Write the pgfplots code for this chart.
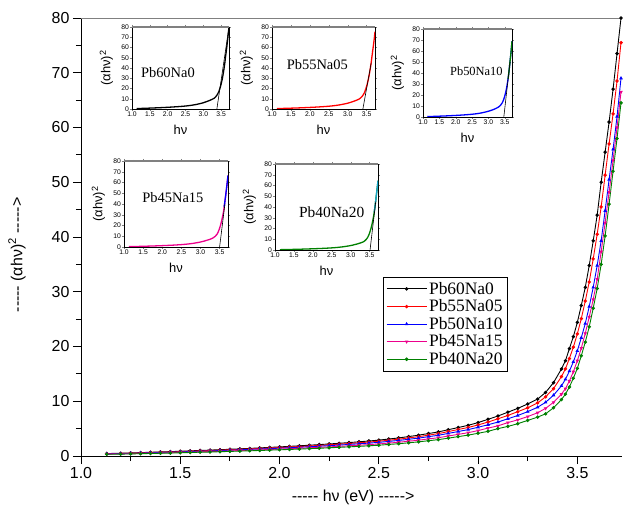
\documentclass[border=0pt]{standalone}
\usepackage{pgfplots}
\pgfplotsset{compat=1.18}
\usepackage{pgfplotstable}
\usepackage{fontspec}
\setmainfont{Liberation Serif}
\setsansfont{Liberation Sans}
\definecolor{dgreen}{RGB}{0,128,0}
\definecolor{topgray}{RGB}{128,128,128}

\pgfplotstableread{
x    b     r     bl    m     g
1.13 0.45  0.42  0.39  0.34  0.31
1.20 0.50  0.47  0.43  0.38  0.34
1.25 0.56  0.52  0.48  0.43  0.38
1.30 0.62  0.58  0.53  0.47  0.42
1.35 0.68  0.63  0.58  0.52  0.46
1.40 0.74  0.69  0.64  0.56  0.50
1.45 0.80  0.74  0.69  0.61  0.54
1.50 0.87  0.81  0.75  0.66  0.59
1.55 0.94  0.87  0.81  0.71  0.64
1.60 1.01  0.94  0.87  0.77  0.69
1.65 1.08  1.00  0.93  0.82  0.73
1.70 1.15  1.07  0.99  0.87  0.78
1.75 1.23  1.14  1.06  0.93  0.84
1.80 1.31  1.22  1.13  1.00  0.89
1.85 1.39  1.29  1.20  1.06  0.95
1.90 1.48  1.38  1.27  1.12  1.01
1.95 1.57  1.46  1.35  1.19  1.07
2.00 1.66  1.54  1.43  1.26  1.13
2.05 1.76  1.64  1.51  1.34  1.20
2.10 1.86  1.73  1.60  1.41  1.26
2.15 1.97  1.83  1.69  1.50  1.34
2.20 2.08  1.93  1.79  1.58  1.41
2.25 2.20  2.05  1.89  1.67  1.50
2.30 2.32  2.16  2.00  1.76  1.58
2.35 2.45  2.28  2.11  1.86  1.67
2.40 2.59  2.41  2.23  1.97  1.76
2.45 2.74  2.55  2.36  2.08  1.86
2.50 2.90  2.70  2.49  2.20  1.97
2.55 3.10  2.88  2.67  2.36  2.11
2.60 3.30  3.07  2.84  2.51  2.24
2.65 3.55  3.30  3.05  2.70  2.41
2.70 3.80  3.53  3.27  2.89  2.58
2.75 4.10  3.81  3.53  3.12  2.79
2.80 4.40  4.09  3.78  3.34  2.99
2.85 4.80  4.46  4.13  3.65  3.26
2.90 5.20  4.84  4.47  3.95  3.54
2.95 5.60  5.21  4.82  4.26  3.81
3.00 6.10  5.67  5.25  4.64  4.15
3.05 6.7   6.2   5.7   5.1   4.5
3.10 7.3   6.8   6.2   5.5   5.0
3.15 8.0   7.4   6.8   6.1   5.4
3.20 8.7   8.1   7.4   6.6   5.9
3.25 9.5   8.8   8.1   7.2   6.5
3.30 10.4  9.7   8.9   7.9   7.1
3.34 11.6  10.8  9.8   8.7   7.7
3.38 13.4  12.3  11.1  9.8   8.8
3.42 15.9  14.5  12.8  11.3  10.3
3.44 17.4  15.9  14.0  12.3  11.3
3.46 19.6  17.8  15.5  13.7  12.6
3.48 21.8  19.9  17.2  15.4  14.2
3.50 24.4  22.3  19.2  17.4  16.0
3.52 27.5  25.1  21.6  19.7  18.3
3.54 30.8  28.3  24.2  22.4  20.8
3.56 34.8  31.8  27.3  25.4  23.6
3.58 39.3  36.0  30.8  28.6  27.0
3.60 44.0  40.5  34.8  32.3  30.6
3.62 50.0  45.5  39.3  37.3  35.0
3.64 55.5  51.3  44.8  42.6  40.2
3.66 61.0  57.0  50.5  48.2  46.0
3.68 67.0  62.5  56.0  54.0  52.0
3.70 73.5  68.5  62.0  60.0  58.0
3.72 80.0  75.5  69.0  66.5  64.5
}\data

\pgfplotsset{
  inset/.style={
    scale only axis, anchor=south west,
    xmin=1, xmax=3.72, ymin=0, ymax=80,
    xtick={1,1.5,...,3.5}, ytick={0,10,...,80},
    minor x tick num=1,
    tick align=outside, major tick length=2bp, minor tick length=1.2bp,
    tick style={line width=0.4pt},
    /pgf/number format/assume math mode=true,
    ticklabel style={font=\sffamily\fontsize{6.8}{7}\selectfont, inner sep=0.8pt},
    xticklabel style={/pgf/number format/.cd,fixed,fixed zerofill,precision=1},
    xlabel={hν}, ylabel={(αhν)\textsuperscript{2}},
    label style={font=\sffamily\fontsize{13}{14}\selectfont},
    xlabel style={yshift=-4bp},
    ylabel style={yshift=4bp},
    axis line style={line width=0.6pt},
    every axis plot/.append style={no marks, line width=1.3pt},
  },
}
\tikzset{insettitle/.style={font=\rmfamily\fontsize{14.5}{16}\selectfont}}

\begin{document}
\begin{tikzpicture}
\begin{axis}[
  name=main,
  scale only axis, width=541bp, height=438bp,
  at={(0,0)}, anchor=south west,
  xmin=1.0, xmax=3.725, ymin=0, ymax=80,
  axis x line*=bottom, axis y line*=left,
  axis line style={line width=0.9pt},
  xtick={1,1.5,...,3.5}, ytick={0,10,...,80},
  minor x tick num=1, minor y tick num=1,
  tick align=outside, major tick length=8bp, minor tick length=5bp,
  tick style={line width=0.9pt, black},
  /pgf/number format/assume math mode=true,
  ticklabel style={font=\sffamily\fontsize{16}{18}\selectfont},
  xticklabel style={/pgf/number format/.cd,fixed,fixed zerofill,precision=1},
  xlabel={{-}{-}{-}{-}{-} hν (eV) {-}{-}{-}{-}{-}>},
  ylabel={{-}{-}{-}{-}{-} (αhν)\textsuperscript{2} {-}{-}{-}{-}{-}>},
  label style={font=\sffamily\fontsize{16}{18}\selectfont},
  xlabel style={at={(rel axis cs:0.503,0)}, anchor=center, yshift=-41bp},
  ylabel style={at={(rel axis cs:0,0.459)}, anchor=center, xshift=0bp, yshift=64bp},
  legend style={at={(0.558,0.409)}, anchor=north west, draw=black, line width=0.6pt,
    font=\rmfamily\fontsize{17.5}{19}\selectfont, row sep=0bp, inner sep=3bp},
  legend cell align=left,
  legend image code/.code={\draw[mark repeat=2,mark phase=2,#1] plot coordinates {(0bp,0bp) (20bp,0bp) (40bp,0bp)};},
  every axis plot/.append style={line width=0.9pt, mark size=1.25pt},
]
\addplot[black, mark=*] table[x=x,y=b] {\data};
\addplot[red, mark=*] table[x=x,y=r] {\data};
\addplot[blue, mark=triangle*] table[x=x,y=bl] {\data};
\addplot[magenta, mark=triangle*, mark options={rotate=180}] table[x=x,y=m] {\data};
\addplot[dgreen, mark=*] table[x=x,y=g] {\data};
\legend{Pb60Na0,Pb55Na05,Pb50Na10,Pb45Na15,Pb40Na20}
\draw[topgray, line width=1.4pt] (rel axis cs:0,1) -- (rel axis cs:1,1);
\end{axis}

% inset 1: Pb60Na0  box (132,27)-(229,109)
\begin{axis}[inset, at={(51bp,347bp)}, width=97bp, height=82bp]
\addplot[black] table[x=x,y=b] {\data};
\addplot[black, line width=0.6pt] coordinates {(3.38,0) (3.72,80)};
\node[insettitle] at (rel axis cs:0.37,0.45) {Pb60Na0};
\draw[topgray, line width=1.4pt] (rel axis cs:0,1) -- (rel axis cs:1,1);
\end{axis}

% inset 2: Pb55Na05 box (272,27)-(375,109)
\begin{axis}[inset, at={(191bp,347bp)}, width=103bp, height=82bp]
\addplot[red] table[x=x,y=r] {\data};
\addplot[black, line width=0.6pt] coordinates {(3.40,0) (3.62,45)};
\node[insettitle] at (rel axis cs:0.44,0.54) {Pb55Na05};
\draw[topgray, line width=1.4pt] (rel axis cs:0,1) -- (rel axis cs:1,1);
\end{axis}

% inset 3: Pb50Na10 box (423,29)-(512,117)
\begin{axis}[inset, at={(342bp,339bp)}, width=89bp, height=88bp]
\addplot[blue] table[x=x,y=bl] {\data};
\addplot[dgreen, restrict x to domain=3.6:3.8] table[x=x,y=bl] {\data};
\addplot[black, line width=0.6pt] coordinates {(3.47,0) (3.66,50)};
\node[insettitle, font=\rmfamily\fontsize{12.5}{14}\selectfont] at (rel axis cs:0.6,0.52) {Pb50Na10};
\draw[topgray, line width=1.4pt] (rel axis cs:0,1) -- (rel axis cs:1,1);
\end{axis}

% inset 4: Pb45Na15 box (124,161)-(228,247)
\begin{axis}[inset, at={(43bp,209bp)}, width=104bp, height=86bp]
\addplot[magenta] table[x=x,y=m] {\data};
\addplot[blue, restrict x to domain=3.62:3.8] table[x=x,y=m] {\data};
\addplot[black, line width=0.6pt] coordinates {(3.50,0) (3.64,40)};
\node[insettitle] at (rel axis cs:0.47,0.58) {Pb45Na15};
\draw[topgray, line width=1.4pt] (rel axis cs:0,1) -- (rel axis cs:1,1);
\end{axis}

% inset 5: Pb40Na20 box (275,164)-(378,250)
\begin{axis}[inset, at={(194bp,206bp)}, width=103bp, height=86bp]
\addplot[dgreen] table[x=x,y=g] {\data};
\addplot[cyan!80!dgreen, restrict x to domain=3.62:3.8] table[x=x,y=g] {\data};
\addplot[black, line width=0.6pt] coordinates {(3.51,0) (3.66,45)};
\node[insettitle, font=\rmfamily\fontsize{15.5}{17}\selectfont] at (rel axis cs:0.55,0.44) {Pb40Na20};
\draw[topgray, line width=1.4pt] (rel axis cs:0,1) -- (rel axis cs:1,1);
\end{axis}

\pgfresetboundingbox
\path[use as bounding box] (-81bp,-65bp) rectangle (542bp,456bp);
\end{tikzpicture}
\end{document}
